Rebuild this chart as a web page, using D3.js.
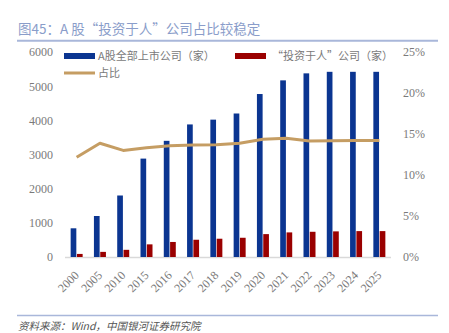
<!DOCTYPE html>
<html>
<head>
<meta charset="utf-8">
<script src="https://cdn.jsdelivr.net/npm/d3@7"></script>
<style>
  html, body { margin: 0; padding: 0; background: #fff; }
  svg { display: block; }
</style>
</head>
<body>
<svg id="chart" width="449" height="333"></svg>
<script>
const years = ["2000","2005","2010","2015","2016","2017","2018","2019","2020","2021","2022","2023","2024","2025"];
const allListed = [840, 1200, 1800, 2880, 3400, 3880, 4020, 4200, 4770, 5170, 5375, 5420, 5420, 5420];
const investInPeople = [90, 150, 210, 370, 440, 505, 535, 563, 670, 720, 738, 750, 758, 758];
const sharePct = [0.1216, 0.1387, 0.1300, 0.1333, 0.1357, 0.1366, 0.1370, 0.1387, 0.1435, 0.1447, 0.1415, 0.1418, 0.1420, 0.1420];
const leftTicks = [0, 1000, 2000, 3000, 4000, 5000, 6000];
const rightTicks = [0, 0.05, 0.10, 0.15, 0.20, 0.25];
const titleText = "图45：A 股“投资于人”公司占比较稳定";
const sourceText = "资料来源：Wind，中国银河证券研究院";
const seriesNames = ["A股全部上市公司（家）", "“投资于人”公司（家）", "占比"];

const C_BLUE = "#0b3591", C_RED = "#9a0000", C_LINE = "#c59d63";
const TXT = "#7a7a7a";
const serif = "'Liberation Serif', 'Times New Roman', serif";

const svg = d3.select("#chart");
const plotL = 65, plotR = 391, plotTop = 52, plotBot = 257;

const x = d3.scaleBand().domain(years).range([plotL, plotR]);
const bw = x.bandwidth();
const x1 = d3.scaleBand().domain(["a","b"]).range([bw/2 - 6, bw/2 + 6]).paddingInner(0.1);
const yL = d3.scaleLinear().domain([0, 6000]).range([plotBot, plotTop]);
const yR = d3.scaleLinear().domain([0, 0.25]).range([plotBot, plotTop]);

// title
svg.append("text").attr("x", 18).attr("y", 34)
  .attr("font-family", "'Noto Sans CJK SC', sans-serif").attr("font-size", 13.5)
  .attr("fill", "#8a9dca").text(titleText);
svg.append("line").attr("x1", 17).attr("x2", 438).attr("y1", 40.8).attr("y2", 40.8)
  .attr("stroke", "#a9b7da").attr("stroke-width", 2);

// left axis
const gL = svg.append("g").attr("transform", `translate(${plotL - 12},0)`)
  .call(d3.axisLeft(yL).tickValues(leftTicks).tickSize(0).tickPadding(0).tickFormat(d3.format("d")));
gL.select(".domain").remove();
gL.selectAll("text").attr("font-family", serif).attr("font-size", 12).attr("fill", TXT);

// right axis
const gR = svg.append("g").attr("transform", `translate(${plotR + 12},0)`)
  .call(d3.axisRight(yR).tickValues(rightTicks).tickSize(0).tickPadding(0).tickFormat(d3.format(".0%")));
gR.select(".domain").remove();
gR.selectAll("text").attr("font-family", serif).attr("font-size", 12).attr("fill", TXT);

// baseline
svg.append("line").attr("x1", plotL).attr("x2", plotR).attr("y1", plotBot + 0.5).attr("y2", plotBot + 0.5)
  .attr("stroke", "#d9d9d9").attr("stroke-width", 1.5);

// bars
const g = svg.append("g");
g.selectAll("rect.a").data(years).join("rect").attr("class", "a")
  .attr("x", d => x(d) + x1("a")).attr("width", x1.bandwidth())
  .attr("y", (d, i) => yL(allListed[i])).attr("height", (d, i) => yL(0) - yL(allListed[i]))
  .attr("fill", C_BLUE);
g.selectAll("rect.b").data(years).join("rect").attr("class", "b")
  .attr("x", d => x(d) + x1("b")).attr("width", x1.bandwidth())
  .attr("y", (d, i) => yL(investInPeople[i])).attr("height", (d, i) => yL(0) - yL(investInPeople[i]))
  .attr("fill", C_RED);

// line
const line = d3.line().x((d, i) => x(years[i]) + bw / 2).y(d => yR(d));
svg.append("path").datum(sharePct).attr("d", line)
  .attr("fill", "none").attr("stroke", C_LINE).attr("stroke-width", 3).attr("stroke-linejoin", "round");

// x axis labels
const gX = svg.append("g").attr("transform", `translate(0,${plotBot})`)
  .call(d3.axisBottom(x).tickSize(0).tickPadding(0));
gX.select(".domain").remove();
gX.selectAll("text")
  .attr("font-family", serif).attr("font-size", 12).attr("fill", TXT)
  .attr("text-anchor", "end").attr("dy", null)
  .attr("transform", "translate(3,19) rotate(-45)");

// legend
const leg = svg.append("g").attr("font-family", "'Noto Sans CJK SC', sans-serif").attr("font-size", 11).attr("fill", TXT);
leg.append("rect").attr("x", 64).attr("y", 53).attr("width", 31).attr("height", 6).attr("fill", C_BLUE);
leg.append("text").attr("x", 98).attr("y", 60).text(seriesNames[0]);
leg.append("rect").attr("x", 235).attr("y", 53).attr("width", 31).attr("height", 6).attr("fill", C_RED);
leg.append("text").attr("x", 272).attr("y", 60).text(seriesNames[1]);
leg.append("line").attr("x1", 64).attr("x2", 95).attr("y1", 73).attr("y2", 73)
  .attr("stroke", C_LINE).attr("stroke-width", 3);
leg.append("text").attr("x", 98).attr("y", 77).text(seriesNames[2]);

// footer
svg.append("line").attr("x1", 17).attr("x2", 438).attr("y1", 315.5).attr("y2", 315.5)
  .attr("stroke", "#a9b7da").attr("stroke-width", 1.5);
svg.append("text").attr("x", 18).attr("y", 330)
  .attr("font-family", "'Noto Sans CJK SC', sans-serif").attr("font-size", 10.5)
  .attr("font-style", "italic").attr("fill", "#555").text(sourceText);
</script>
</body>
</html>
